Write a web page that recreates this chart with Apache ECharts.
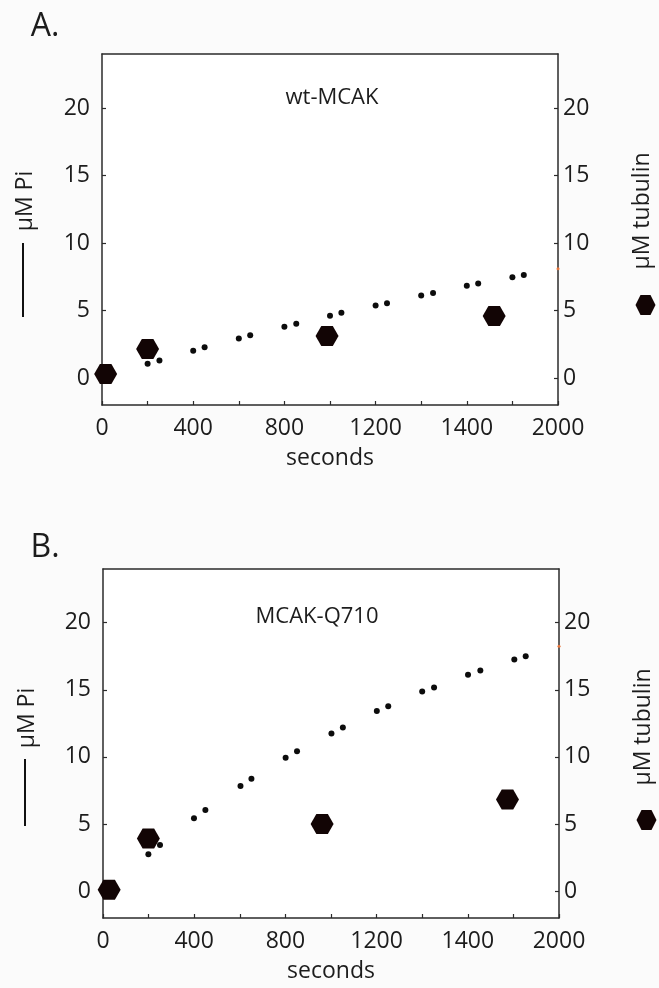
<!DOCTYPE html>
<html>
<head>
<meta charset="utf-8">
<script src="https://cdn.jsdelivr.net/npm/echarts@6/dist/echarts.min.js"></script>
<style>
  html, body { margin: 0; padding: 0; background: #fbfbfb; }
  #main { width: 659px; height: 988px; }
</style>
</head>
<body>
<div id="main"></div>
<script>
// x 轴标签（原图第 8 个刻度写的是 1400，照原图）
const xTickValues = [0, 400, 800, 1200, 1600, 2000];
const xTickText = ['0', '400', '800', '1200', '1400', '2000'];
const yTickValues = [0, 5, 10, 15, 20];

// A. wt-MCAK
const piTimeA = [200, 252, 400, 450, 600, 650, 800, 852, 1000, 1050, 1200, 1250, 1400, 1452, 1600, 1650, 1800, 1850];
const piValueA = [1.05, 1.29, 2.02, 2.27, 2.93, 3.17, 3.80, 4.02, 4.61, 4.83, 5.37, 5.54, 6.12, 6.29, 6.83, 7.0, 7.46, 7.63];
const tubTimeA = [16, 200, 987, 1720];
const tubValueA = [0.3, 2.15, 3.12, 4.6];

// B. MCAK-Q710
const piTimeB = [199, 250, 399, 449, 603, 651, 801, 851, 1002, 1052, 1201, 1251, 1400, 1452, 1601, 1655, 1804, 1854];
const piValueB = [2.75, 3.43, 5.43, 6.05, 7.83, 8.38, 9.93, 10.43, 11.75, 12.2, 13.43, 13.78, 14.88, 15.18, 16.13, 16.43, 17.25, 17.5];
const tubTimeB = [27, 199, 961, 1774];
const tubValueB = [0.1, 3.93, 5.0, 6.83];

// 右边框上的小橙点
const strayA = [[2000, 8.1]];
const strayB = [[2000, 18.25]];

const hexPath = 'path://M0,10 L5,0 L15,0 L20,10 L15,20 L5,20 Z';
const FONT = 'Open Sans';
const INK = '#1c1c1c';
const LINE = '#2b2b2b';
const HEX = '#120505';

const zip = (xs, ys) => xs.map((x, i) => [x, ys[i]]);

function bottomAxis(gridIndex) {
  return {
    gridIndex: gridIndex, type: 'value', min: 0, max: 2000, interval: 200,
    name: 'seconds', nameLocation: 'middle', nameGap: 42,
    nameTextStyle: { fontSize: 23, color: INK, fontFamily: FONT },
    axisLine: { show: true, onZero: false, lineStyle: { color: LINE, width: 1.5 } },
    axisTick: { show: true, inside: true, length: 4, lineStyle: { color: LINE, width: 1.2 } },
    axisLabel: {
      margin: 12, fontSize: 23, color: INK, fontFamily: FONT,
      customValues: xTickValues,
      formatter: v => xTickText[xTickValues.indexOf(v)]
    },
    splitLine: { show: false }
  };
}

function topAxis(gridIndex) {
  return {
    gridIndex: gridIndex, type: 'value', position: 'top', min: 0, max: 2000,
    axisLine: { show: true, onZero: false, lineStyle: { color: LINE, width: 1.5 } },
    axisTick: { show: false }, axisLabel: { show: false }, splitLine: { show: false }
  };
}

function yAxisFor(gridIndex, side) {
  return {
    gridIndex: gridIndex, type: 'value', position: side, min: -2, max: 24,
    axisLine: { show: true, onZero: false, lineStyle: { color: LINE, width: 1.5 } },
    axisTick: { show: true, inside: true, length: 4, customValues: yTickValues, lineStyle: { color: LINE, width: 1.2 } },
    axisLabel: { margin: side === 'left' ? 12 : 5, fontSize: 23, color: INK, fontFamily: FONT, customValues: yTickValues },
    splitLine: { show: false }
  };
}

function dots(name, xi, yi, data) {
  return { name: name, type: 'scatter', xAxisIndex: xi, yAxisIndex: yi, data: data,
    symbol: 'circle', symbolSize: 6, itemStyle: { color: '#0c0c0c', opacity: 1 }, silent: true, z: 3 };
}
function hexes(name, xi, yi, data) {
  return { name: name, type: 'scatter', xAxisIndex: xi, yAxisIndex: yi, data: data,
    symbol: hexPath, symbolSize: [23, 20], itemStyle: { color: HEX, opacity: 1 }, silent: true, z: 4 };
}
function stray(xi, yi, data) {
  return { type: 'scatter', xAxisIndex: xi, yAxisIndex: yi, data: data,
    symbol: 'circle', symbolSize: 3, itemStyle: { color: '#e8763c', opacity: 1 }, silent: true, z: 5 };
}

function txt(x, y, s, size, rot) {
  return { type: 'text', x: x, y: y, rotation: rot || 0,
    style: { text: s, font: size + 'px "' + FONT + '"', fill: INK, textAlign: 'center', textVerticalAlign: 'middle' } };
}
function vline(x, y1, y2) {
  return { type: 'line', shape: { x1: x, y1: y1, x2: x, y2: y2 }, style: { stroke: '#111', lineWidth: 2 } };
}

const chart = echarts.init(document.getElementById('main'), null, { renderer: 'canvas' });

const option = {
  backgroundColor: '#fbfbfb',
  animation: false,
  grid: [
    { left: 102, top: 54, width: 456, height: 351, backgroundColor: '#fff', show: true, borderWidth: 0 },
    { left: 103, top: 569, width: 456, height: 349, backgroundColor: '#fff', show: true, borderWidth: 0 }
  ],
  xAxis: [bottomAxis(0), topAxis(0), bottomAxis(1), topAxis(1)],
  yAxis: [yAxisFor(0, 'left'), yAxisFor(0, 'right'), yAxisFor(1, 'left'), yAxisFor(1, 'right')],
  legend: [
    { data: ['tubulin A'], left: 629, top: 290, icon: hexPath, itemWidth: 23, itemHeight: 20,
      formatter: () => '', selectedMode: false, itemStyle: { color: HEX, opacity: 1 } },
    { data: ['tubulin B'], left: 630, top: 805, icon: hexPath, itemWidth: 23, itemHeight: 20,
      formatter: () => '', selectedMode: false, itemStyle: { color: HEX, opacity: 1 } }
  ],
  graphic: [
    txt(45, 27, 'A.', 32),
    txt(45, 548, 'B.', 32),
    txt(332, 98, 'wt-MCAK', 22),
    txt(317, 617, 'MCAK-Q710', 22),
    txt(25, 201, 'μM Pi', 23, Math.PI / 2),
    vline(23, 243, 317),
    txt(27, 718, 'μM Pi', 23, Math.PI / 2),
    vline(25, 759, 826),
    txt(642, 211, 'μM tubulin', 23, Math.PI / 2),
    txt(643, 727, 'μM tubulin', 23, Math.PI / 2)
  ],
  series: [
    dots('Pi A', 0, 0, zip(piTimeA, piValueA)),
    hexes('tubulin A', 0, 1, zip(tubTimeA, tubValueA)),
    stray(0, 1, strayA),
    dots('Pi B', 2, 2, zip(piTimeB, piValueB)),
    hexes('tubulin B', 2, 3, zip(tubTimeB, tubValueB)),
    stray(2, 3, strayB)
  ]
};

chart.setOption(option);
</script>
</body>
</html>
